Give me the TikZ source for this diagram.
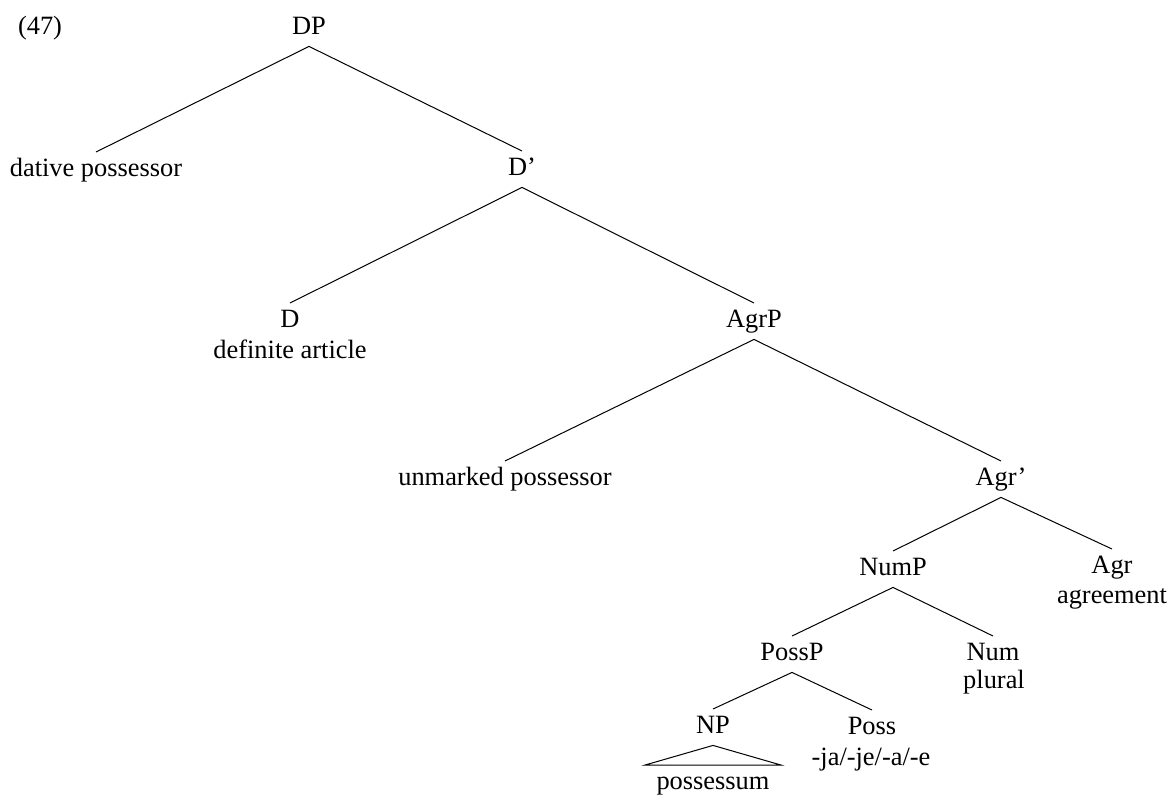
\documentclass[tikz,border=0pt]{standalone}
\usepackage{fontspec}
\setmainfont{Liberation Serif}

\begin{document}
\begin{tikzpicture}[x=0.5pt,y=0.5pt,yscale=-1,xscale=1,
    cat/.style={anchor=base,inner xsep=0pt,inner ysep=2.5pt,text height=9.3pt,text depth=3.5pt,font=\fontsize{13.2}{15}\selectfont},
    gloss/.style={anchor=base,inner sep=0pt,font=\fontsize{13.2}{15}\selectfont},
    branch/.style={line width=0.5pt}]
        \useasboundingbox (0,0) rectangle (1172,794);
        %Labels
        \node[gloss] (exnum) at (40,34) {(47)};
        \node[cat] (dp) at (309,34) {DP};
        \node[cat] (dative) at (96,176) {dative possessor};
        \node[cat] (dbar) at (522,175) {D'};
        \node[cat] (d) at (290,327) {D};
        \node[gloss] (dgloss) at (290,358) {definite article};
        \node[cat] (agrp) at (754,327) {AgrP};
        \node[cat] (unmarked) at (505,485) {unmarked possessor};
        \node[cat] (agrbar) at (1001,485) {Agr'};
        \node[cat] (nump) at (893,575) {NumP};
        \node[cat] (agr) at (1112,573) {Agr};
        \node[gloss] (agrgloss) at (1112,603) {agreement};
        \node[cat] (possp) at (792,660) {PossP};
        \node[cat] (num) at (993,660) {Num};
        \node[gloss] (numgloss) at (994,688) {plural};
        \node[cat] (np) at (713,733) {NP};
        \node[cat] (poss) at (872,734) {Poss};
        \node[gloss] (possgloss) at (871,765) {-ja/-je/-a/-e};
        \node[cat,inner xsep=5.5pt] (possessum) at (713,789) {possessum};
        %Straight Lines
        \draw[branch] (dp.south) -- (dative.north);
        \draw[branch] (dp.south) -- (dbar.north);
        \draw[branch] (dbar.south) -- (d.north);
        \draw[branch] (dbar.south) -- (agrp.north);
        \draw[branch] (agrp.south) -- (unmarked.north);
        \draw[branch] (agrp.south) -- (agrbar.north);
        \draw[branch] (agrbar.south) -- (nump.north);
        \draw[branch] (agrbar.south) -- (agr.north);
        \draw[branch] (nump.south) -- (possp.north);
        \draw[branch] (nump.south) -- (num.north);
        \draw[branch] (possp.south) -- (np.north);
        \draw[branch] (possp.south) -- (poss.north);
        %Triangle
        \draw[branch] (np.south) -- (possessum.north west) -- (possessum.north east) -- cycle;
\end{tikzpicture}
\end{document}
